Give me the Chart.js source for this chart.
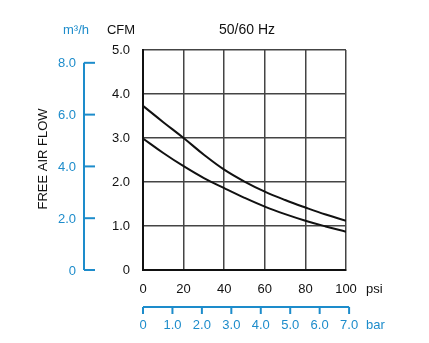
<!DOCTYPE html>
<html>
<head>
  <meta charset="UTF-8">
  <title>Free Air Flow 50/60 Hz</title>
  <script src="https://cdn.jsdelivr.net/npm/chart.js"></script>
  <style>
    html, body {
      margin: 0;
      padding: 0;
      background: #fff;
    }
    #wrap {
      width: 429px;
      height: 343px;
    }
  </style>
</head>
<body>
  <div id="wrap"><canvas id="flowChart"></canvas></div>

  <script>
  // pressure in psi and free air flow in CFM, two curves
  const psiPoints = [0, 10, 20, 30, 40, 50, 60, 70, 80, 90, 100];
  const upperCfm = [3.73, 3.36, 3.0, 2.62, 2.28, 2.01, 1.78, 1.59, 1.42, 1.26, 1.12];
  const lowerCfm = [2.99, 2.66, 2.36, 2.09, 1.86, 1.64, 1.44, 1.27, 1.12, 0.99, 0.87];

  // secondary (metric) axis ticks
  const m3hTicks = [0, 2, 4, 6, 8];
  const barTicks = [0, 1, 2, 3, 4, 5, 6, 7];

  const M3H_PER_CFM = 1.699;
  const PSI_PER_BAR = 14.5038;

  const BLUE = '#1d8ccb';
  const FONT = '"Liberation Sans", Arial, sans-serif';

  const toPoints = ys => psiPoints.map((x, i) => ({ x, y: ys[i] }));

  // blue metric axes and the extra labels around the plot
  const extras = {
    id: 'extras',
    afterDraw(chart) {
      const { ctx } = chart;
      const x = chart.scales.x;
      const y = chart.scales.y;
      ctx.save();

      // m3/h axis on the left
      const ax = 84;
      ctx.strokeStyle = BLUE;
      ctx.lineWidth = 2;
      ctx.beginPath();
      ctx.moveTo(ax, y.getPixelForValue(m3hTicks[m3hTicks.length - 1] / M3H_PER_CFM));
      ctx.lineTo(ax, y.getPixelForValue(0));
      ctx.stroke();
      ctx.fillStyle = BLUE;
      ctx.font = '13px ' + FONT;
      ctx.textAlign = 'right';
      ctx.textBaseline = 'middle';
      m3hTicks.forEach(v => {
        const py = y.getPixelForValue(v / M3H_PER_CFM);
        ctx.beginPath();
        ctx.moveTo(ax, py);
        ctx.lineTo(ax + 11, py);
        ctx.stroke();
        ctx.fillText(v === 0 ? '0' : v.toFixed(1), ax - 8, py + 1);
      });

      // bar axis underneath
      const ay = 307;
      ctx.beginPath();
      ctx.moveTo(x.getPixelForValue(0), ay);
      ctx.lineTo(x.getPixelForValue(barTicks[barTicks.length - 1] * PSI_PER_BAR), ay);
      ctx.stroke();
      ctx.textAlign = 'center';
      barTicks.forEach(v => {
        const px = x.getPixelForValue(v * PSI_PER_BAR);
        ctx.beginPath();
        ctx.moveTo(px, ay);
        ctx.lineTo(px, ay + 7);
        ctx.stroke();
        ctx.fillText(v === 0 ? '0' : v.toFixed(1), px, 325);
      });
      ctx.textAlign = 'left';
      ctx.fillText('bar', 366, 325);
      ctx.fillText('m³/h', 63, 30);

      // black labels
      ctx.fillStyle = '#111';
      ctx.fillText('psi', 366, 289);
      ctx.textAlign = 'center';
      ctx.fillText('CFM', 121, 30);
      ctx.font = '14px ' + FONT;
      ctx.fillText('50/60 Hz', 247, 30);

      ctx.font = '13px ' + FONT;
      ctx.translate(43, 159);
      ctx.rotate(-Math.PI / 2);
      ctx.fillText('FREE AIR FLOW', 0, 0);
      ctx.restore();
    }
  };

  new Chart(document.getElementById('flowChart'), {
    type: 'line',
    data: {
      datasets: [
        { data: toPoints(upperCfm) },
        { data: toPoints(lowerCfm) }
      ]
    },
    options: {
      responsive: true,
      maintainAspectRatio: false,
      animation: false,
      layout: { padding: { top: 50, right: 83, bottom: 0, left: 0 } },
      elements: {
        point: { radius: 0 },
        line: {
          borderColor: '#111',
          borderWidth: 2,
          tension: 0.4,
          fill: false
        }
      },
      plugins: {
        legend: { display: false },
        tooltip: { enabled: false }
      },
      scales: {
        x: {
          type: 'linear',
          min: 0,
          max: 100,
          afterFit: s => { s.height = 73; },
          border: { color: '#111', width: 2 },
          grid: { color: '#444', lineWidth: 1.5, drawTicks: false },
          ticks: {
            stepSize: 20,
            padding: 12,
            color: '#111',
            font: { family: FONT, size: 13 }
          }
        },
        y: {
          min: 0,
          max: 5,
          afterFit: s => { s.width = 143; },
          border: { color: '#111', width: 2 },
          grid: { color: '#444', lineWidth: 1.5, drawTicks: false },
          ticks: {
            stepSize: 1,
            padding: 13,
            color: '#111',
            font: { family: FONT, size: 13 },
            callback: v => v === 0 ? '0' : v.toFixed(1)
          }
        }
      }
    },
    plugins: [extras]
  });
  </script>
</body>
</html>
